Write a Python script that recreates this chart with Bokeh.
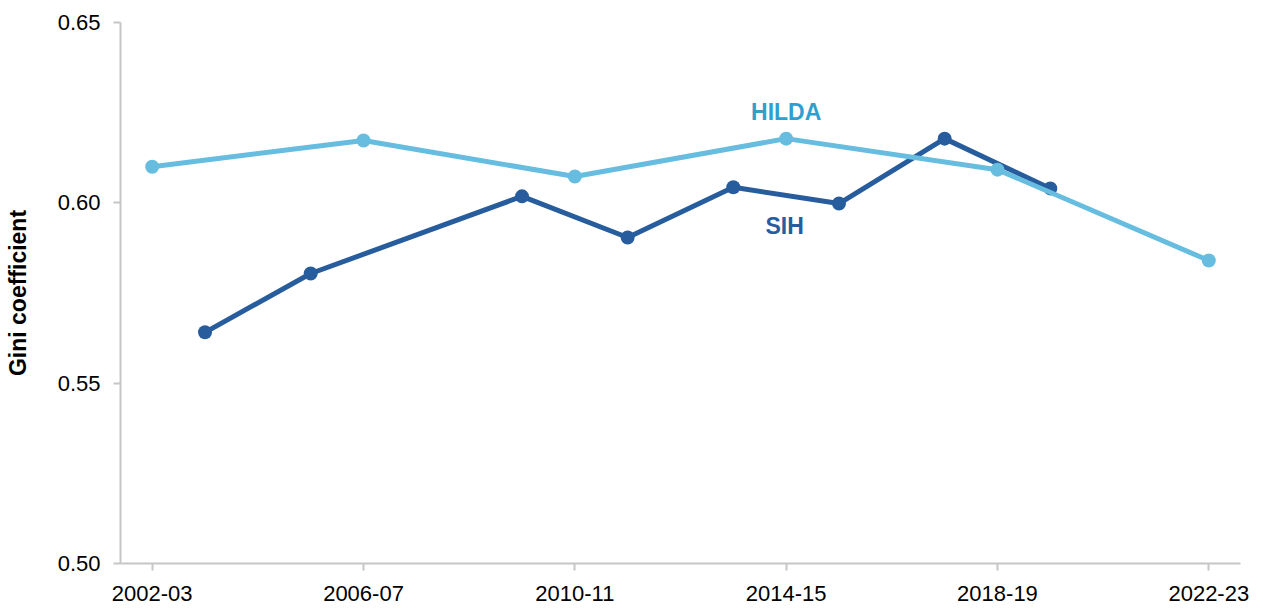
from bokeh.plotting import figure
from bokeh.models import FixedTicker, Range1d, NumeralTickFormatter
from bokeh.embed import file_html
from bokeh.resources import INLINE
from bokeh.core.properties import value

categories = ["2002-03", "2003-04", "2004-05", "2005-06", "2006-07", "2007-08",
              "2008-09", "2009-10", "2010-11", "2011-12", "2012-13", "2013-14",
              "2014-15", "2015-16", "2016-17", "2017-18", "2018-19", "2019-20",
              "2020-21", "2021-22", "2022-23"]
tick_labels = ["2002-03", "2006-07", "2010-11", "2014-15", "2018-19", "2022-23"]

hilda_years = ["2002-03", "2006-07", "2010-11", "2014-15", "2018-19", "2022-23"]
hilda_gini = [0.610, 0.6173, 0.6073, 0.6178, 0.6092, 0.584]

sih_years = ["2003-04", "2005-06", "2009-10", "2011-12", "2013-14", "2015-16",
             "2017-18", "2019-20"]
sih_gini = [0.5641, 0.5804, 0.6018, 0.5904, 0.6043, 0.5998, 0.6178, 0.604]

hx = [categories.index(c) for c in hilda_years]
sx = [categories.index(c) for c in sih_years]
tick_pos = [categories.index(c) for c in tick_labels]

FONT = "Liberation Sans"
HILDA_C = "#66bddf"
HILDA_TXT = "#2f9fcf"
SIH_C = "#275d9d"
AXIS_C = "#c6c6c6"

p = figure(width=1255, height=606, output_backend="svg", toolbar_location=None,
           x_range=Range1d(-0.6, 20.6), y_range=Range1d(0.50, 0.65))
p.min_border_left = 120
p.min_border_right = 15
p.min_border_top = 22
p.min_border_bottom = 43
p.outline_line_color = None
p.xgrid.visible = False
p.ygrid.visible = False

p.line(sx, sih_gini, line_color=SIH_C, line_width=5)
p.scatter(sx, sih_gini, size=14, fill_color=SIH_C, line_color=None)
p.line(hx, hilda_gini, line_color=HILDA_C, line_width=5)
p.scatter(hx, hilda_gini, size=14, fill_color=HILDA_C, line_color=None)

p.text([12], [0.6251], text=["HILDA"], text_color=HILDA_TXT, text_font=value(FONT),
       text_font_style="bold", text_font_size="23px", text_align="center",
       text_baseline="middle")
p.text([11.97], [0.5937], text=["SIH"], text_color=SIH_C, text_font=value(FONT),
       text_font_style="bold", text_font_size="23px", text_align="center",
       text_baseline="middle")

for ax in (p.xaxis[0], p.yaxis[0]):
    ax.axis_line_color = AXIS_C
    ax.axis_line_width = 2
    ax.major_tick_line_color = AXIS_C
    ax.major_tick_line_width = 2
    ax.major_tick_in = 0
    ax.major_tick_out = 7
    ax.minor_tick_line_color = None
    ax.major_label_text_font = FONT
    ax.major_label_text_font_size = "22px"
    ax.major_label_text_color = "black"

p.xaxis.ticker = FixedTicker(ticks=tick_pos)
p.xaxis.major_label_overrides = {i: l for i, l in zip(tick_pos, tick_labels)}
p.xaxis.major_label_standoff = 15

p.yaxis.ticker = FixedTicker(ticks=[0.50, 0.55, 0.60, 0.65])
p.yaxis.formatter = NumeralTickFormatter(format="0.00")
p.yaxis.major_label_standoff = 13
p.yaxis.axis_label = "Gini coefficient"
p.yaxis.axis_label_text_font = FONT
p.yaxis.axis_label_text_font_style = "bold"
p.yaxis.axis_label_text_font_size = "23px"
p.yaxis.axis_label_text_color = "black"
p.yaxis.axis_label_standoff = 24

open("out.html", "w").write(file_html(p, INLINE))
